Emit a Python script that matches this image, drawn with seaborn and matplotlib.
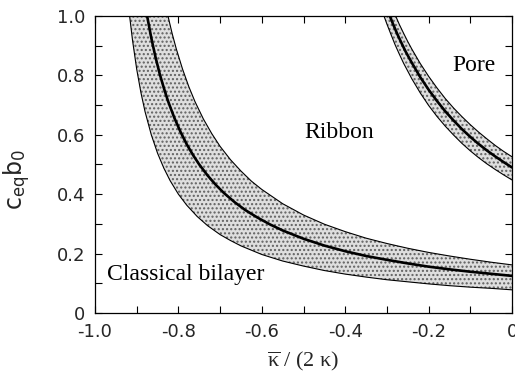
import numpy as np
import pandas as pd
import matplotlib
matplotlib.use("Agg")
import matplotlib.pyplot as plt
import seaborn as sns
from matplotlib.ticker import MultipleLocator

# Classical bilayer / ribbon boundary (centre line and band edges)
cb_x_mid = [-0.875, -0.865, -0.855, -0.845, -0.835, -0.825, -0.81, -0.795, -0.78, -0.765,
            -0.75, -0.73, -0.71, -0.69, -0.665, -0.64, -0.61, -0.58, -0.55, -0.50, -0.45,
            -0.40, -0.35, -0.30, -0.25, -0.20, -0.15, -0.10, -0.05, 0.0]
cb_y_mid = [1.00, 0.926, 0.862, 0.806, 0.758, 0.714, 0.658, 0.610, 0.568, 0.532,
            0.50, 0.463, 0.431, 0.403, 0.373, 0.347, 0.321, 0.298, 0.278, 0.25, 0.227,
            0.208, 0.192, 0.179, 0.167, 0.156, 0.147, 0.139, 0.132, 0.125]

cb_x_hi = [-0.825, -0.815, -0.805, -0.79, -0.775, -0.76, -0.74, -0.72, -0.70, -0.675,
           -0.65, -0.625, -0.60, -0.55, -0.50, -0.45, -0.40, -0.35, -0.30, -0.25, -0.20,
           -0.15, -0.10, -0.05, 0.0]
cb_y_hi = [1.00, 0.941, 0.889, 0.821, 0.762, 0.711, 0.653, 0.604, 0.561, 0.516,
           0.478, 0.444, 0.416, 0.368, 0.330, 0.299, 0.274, 0.252, 0.234, 0.218, 0.204,
           0.192, 0.181, 0.171, 0.162]

cb_x_lo = [-0.917, -0.91, -0.90, -0.89, -0.88, -0.865, -0.85, -0.835, -0.82, -0.80,
           -0.78, -0.755, -0.73, -0.70, -0.675, -0.65, -0.60, -0.55, -0.50, -0.45, -0.40,
           -0.35, -0.30, -0.25, -0.20, -0.15, -0.10, -0.05, 0.0]
cb_y_lo = [1.00, 0.918, 0.821, 0.743, 0.678, 0.600, 0.538, 0.488, 0.446, 0.400,
           0.363, 0.325, 0.294, 0.264, 0.244, 0.226, 0.197, 0.175, 0.158, 0.143, 0.131,
           0.121, 0.112, 0.105, 0.098, 0.092, 0.087, 0.083, 0.078]

# Ribbon / pore boundary (centre line and band edges)
rp_x_mid = [-0.293, -0.285, -0.275, -0.265, -0.255, -0.24, -0.22, -0.20, -0.18, -0.16,
            -0.14, -0.12, -0.10, -0.08, -0.06, -0.04, -0.02, 0.0]
rp_y_mid = [1.00, 0.972, 0.939, 0.909, 0.880, 0.842, 0.794, 0.752, 0.714, 0.679,
            0.648, 0.619, 0.593, 0.569, 0.547, 0.527, 0.508, 0.490]

rp_x_hi = [-0.279, -0.27, -0.26, -0.25, -0.24, -0.22, -0.20, -0.18, -0.16, -0.14,
           -0.12, -0.10, -0.08, -0.06, -0.04, -0.02, 0.0]
rp_y_hi = [1.00, 0.971, 0.942, 0.914, 0.888, 0.840, 0.797, 0.758, 0.722, 0.690,
           0.661, 0.634, 0.609, 0.586, 0.564, 0.544, 0.526]

rp_x_lo = [-0.307, -0.30, -0.29, -0.28, -0.27, -0.26, -0.24, -0.22, -0.20, -0.18,
           -0.16, -0.14, -0.12, -0.10, -0.08, -0.06, -0.04, -0.02, 0.0]
rp_y_lo = [1.00, 0.973, 0.937, 0.902, 0.871, 0.841, 0.788, 0.741, 0.699, 0.662,
           0.629, 0.599, 0.571, 0.546, 0.523, 0.502, 0.483, 0.465, 0.448]

region_labels = ["Classical bilayer", "Ribbon", "Pore"]
region_pos = [(-0.972, 0.111), (-0.497, 0.588), (-0.142, 0.815)]

x_ticks = [-1.0, -0.8, -0.6, -0.4, -0.2, 0.0]
x_ticklabels = ["-1.0", "-0.8", "-0.6", "-0.4", "-0.2", "0"]
y_ticks = [0.0, 0.2, 0.4, 0.6, 0.8, 1.0]
y_ticklabels = ["0", "0.2", "0.4", "0.6", "0.8", "1.0"]

sns.set_style("ticks")
plt.rcParams["font.family"] = ["DejaVu Sans"]
plt.rcParams["axes.unicode_minus"] = False
plt.rcParams["mathtext.fontset"] = "custom"
plt.rcParams["mathtext.rm"] = "Liberation Serif"
plt.rcParams["mathtext.it"] = "Liberation Serif:italic"
plt.rcParams["mathtext.sf"] = "DejaVu Sans"
plt.rcParams["hatch.linewidth"] = 1.0

fig = plt.figure(figsize=(5.15, 3.78), dpi=100)
ax = fig.add_axes([95 / 515, 1 - 313 / 378, (512 - 95) / 515, (313 - 16) / 378])


def band(ax, xh, yh, xl, yl):
    # stippled polygon: upper edge forward, lower edge backward
    px = list(xh) + list(xl)[::-1]
    py = list(yh) + list(yl)[::-1]
    ax.fill(px, py, facecolor="#dedede", edgecolor="#606060", hatch="....",
            linewidth=0, zorder=1)


band(ax, cb_x_hi, cb_y_hi, cb_x_lo, cb_y_lo)
band(ax, rp_x_hi, rp_y_hi, rp_x_lo, rp_y_lo)

for xs, ys, lw in [(cb_x_hi, cb_y_hi, 0.8), (cb_x_lo, cb_y_lo, 0.8), (cb_x_mid, cb_y_mid, 1.9),
                   (rp_x_hi, rp_y_hi, 0.8), (rp_x_lo, rp_y_lo, 0.8), (rp_x_mid, rp_y_mid, 1.9)]:
    df = pd.DataFrame({"x": xs, "y": ys})
    sns.lineplot(data=df, x="x", y="y", sort=False, estimator=None, color="black",
                 linewidth=lw, ax=ax, zorder=3)

for txt, (tx, ty) in zip(region_labels, region_pos):
    ax.text(tx, ty, txt, fontsize=17, family="Liberation Serif", ha="left", va="baseline",
            color="black", zorder=4)

ax.set_xlim(-1.0, 0.0)
ax.set_ylim(0.0, 1.0)
ax.set_xticks(x_ticks)
ax.set_xticklabels(x_ticklabels)
ax.set_yticks(y_ticks)
ax.set_yticklabels(y_ticklabels)
ax.xaxis.set_minor_locator(MultipleLocator(0.1))
ax.yaxis.set_minor_locator(MultipleLocator(0.1))
ax.tick_params(which="both", direction="in", top=True, right=True, length=5, width=0.8,
               color="black", labelsize=13, pad=7)

for s in ax.spines.values():
    s.set_linewidth(0.9)
    s.set_color("black")

ax.set_xlabel(r"$\overline{\mathrm{κ}}$ / (2 κ)", fontsize=16, family="Liberation Serif",
              labelpad=6)
ax.set_ylabel(r"c$_{\mathsf{eq}}$b$_{\mathsf{0}}$", fontsize=17)
ax.yaxis.set_label_coords(-0.15, 0.45)

fig.savefig("out.png", dpi=100)
